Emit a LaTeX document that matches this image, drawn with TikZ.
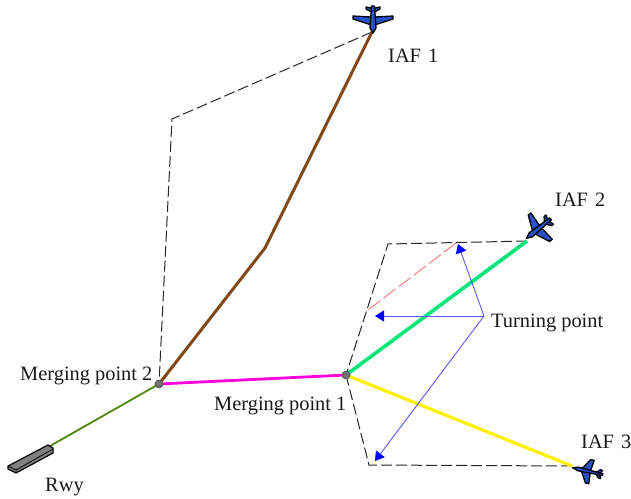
\documentclass[tikz,border=0pt]{standalone}
\usepackage{fontspec}
\setmainfont{Liberation Serif}
\usetikzlibrary{arrows.meta}
\definecolor{brownline}{RGB}{128,72,24}
\definecolor{greenline}{RGB}{0,230,120}
\definecolor{yellowline}{RGB}{255,240,0}
\definecolor{magline}{RGB}{255,0,220}
\definecolor{oliveline}{RGB}{80,135,10}
\definecolor{planeblue}{RGB}{40,80,200}
\tikzset{
  x=1pt,y=-1pt,
  label text/.style={font=\fontsize{20.4}{22}\selectfont,inner sep=0pt,text=black!90},
  route/.style={dash pattern=on 11pt off 4pt,line width=1pt,black!85},
  track/.style={line width=#1},
  blue arrow/.style={draw=blue!65,line width=.9pt,-{Triangle[color=blue,fill=blue,length=9pt,width=11pt]}},
  merge/.style={circle,draw=black!70,fill=black!55,line width=.6pt,inner sep=0pt,minimum size=8pt},
  plane part/.style={fill=planeblue,draw=black,line width=1.3pt,line join=round},
  plane/.pic={
    \path[plane part] (-11,-7)--(-8,-1.5)--(-8,1.5)--(-11,7)--(-13,7)--(-12,2)--(-12,-2)--(-13,-7)--cycle;
    \path[plane part] (5,-1.5)--(-1,-20)--(-4,-20)--(-3,-2)--(-3,2)--(-4,20)--(-1,20)--(5,1.5)--cycle;
    \path[plane part] (-14,-1.5)--(8,-3)--(13,0)--(8,3)--(-14,1.5)--cycle;
  }
}
\begin{document}
\begin{tikzpicture}
\useasboundingbox (0,0) rectangle (631,498);
% way points
\coordinate (iafa) at (372,32);
\coordinate (iafb) at (527,241);
\coordinate (iafc) at (572,466);
\coordinate (bend) at (265,248);
\coordinate (wa) at (172,119);
\coordinate (wb) at (388,244);
\coordinate (wc) at (369,465);
\coordinate (ra) at (456,243);
\coordinate (rb) at (368,310);
\coordinate (rwyend) at (50,446);
\coordinate (tipa) at (458,244);
\coordinate (tipb) at (375,316);
\coordinate (tipc) at (375,461);
\coordinate (turn) at (484,316);
\coordinate (mpa) at (346,375);
\coordinate (mpb) at (159,384);
% dashed routes
\draw[route] (iafa) -- (wa) -- (mpb);
\draw[route] (iafb) -- (wb) -- (mpa);
\draw[route] (iafc) -- (wc) -- (mpa);
\draw[dash pattern=on 15pt off 4pt,line width=.9pt,red!55] (ra) -- (rb);
% tracks
\draw[track=3pt,brownline] (iafa) -- (bend) -- (mpb);
\draw[track=3.6pt,greenline] (iafb) -- (mpa);
\draw[track=3.2pt,yellowline] (iafc) -- (mpa);
\draw[track=2.8pt,magline] (mpb) -- (mpa);
\draw[track=1.8pt,oliveline] (mpb) -- (rwyend);
% turning point arrows
\draw[blue arrow] (turn) -- (tipa);
\draw[blue arrow] (turn) -- (tipb);
\draw[blue arrow] (turn) -- (tipc);
% merging points
\node[merge] (mone) at (mpa) {};
\node[merge] (mtwo) at (mpb) {};
% runway
\draw[fill=black!50,line width=1.2pt,line join=round] (8,466)--(48,445)--(53,448)--(53,453)--(16,473)--(8,469)--cycle;
\draw[line width=.8pt] (8,466)--(16,470)--(53,449) (16,470)--(16,473);
% aircraft
\pic[rotate=-90] at (373,20) {plane};
\pic[rotate=219,xscale=1.15,yscale=.85] at (538,229) {plane};
\pic[rotate=167,xscale=1.15,yscale=.6] at (587,471) {plane};
% labels
\node[label text,anchor=base west] (la) at (388,62) {IAF\hspace{.35em}1};
\node[label text,anchor=base west] (lb) at (555,206) {IAF\hspace{.35em}2};
\node[label text,anchor=base west] (lc) at (581,448) {IAF\hspace{.35em}3};
\node[label text,anchor=base west] (lt) at (491,327) {Turning point};
\node[label text,anchor=base west] (lm) at (20,380) {Merging point 2};
\node[label text,anchor=base west] (ln) at (214,410) {Merging point 1};
\node[label text,anchor=base west] (lr) at (45,491) {Rwy};
\end{tikzpicture}
\end{document}
